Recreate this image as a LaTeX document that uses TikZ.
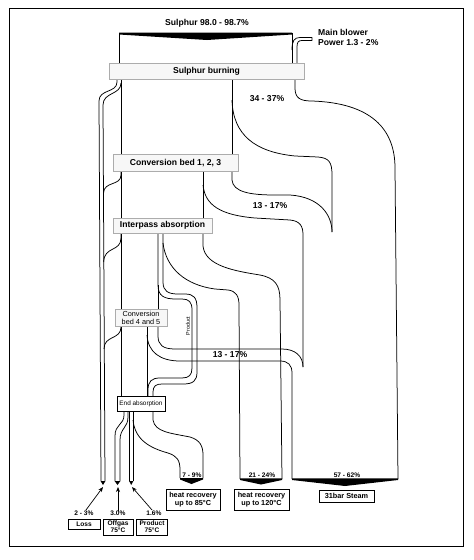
\documentclass[tikz,border=0pt]{standalone}
\usepackage{fontspec}
\setmainfont{Liberation Sans}
\usetikzlibrary{arrows.meta}
\begin{document}
\begin{tikzpicture}[x=1pt,y=-1pt,
  flow/.style={line width=0.75pt, line join=round},
  gbox/.style={draw=gray!65, fill=gray!6, line width=0.7pt, inner sep=0pt, font=\fontsize{8.6}{9}\selectfont\bfseries},
  bbox/.style={draw=black, fill=white, line width=0.7pt, inner sep=0pt, align=center, font=\fontsize{6.6}{7.2}\selectfont\bfseries},
  lab/.style={inner sep=0pt, font=\fontsize{8.6}{9}\selectfont\bfseries},
  slab/.style={inner sep=0pt, font=\fontsize{6.6}{7}\selectfont\bfseries},
  arr/.style={line width=0.7pt, -{Stealth[length=5pt,width=4pt]}}
]
\useasboundingbox (0,0) rectangle (474,560);
\draw[line width=0.9pt] (9,8) rectangle (463,546);

% ---------- top input ----------
\fill (119,32.5) -- (292,32.5) -- (292,34.5) -- (207,40) -- (119,34.5) -- cycle;
\draw[flow] (119,33) -- (119,63);
\draw[flow] (292,33) -- (292,63);
% main blower pipe
\draw[flow] (292,50) .. controls (292,41) and (294,37.5) .. (300,37.5) -- (312,37.5) -- (312,40.5) -- (302,40.5) .. controls (298.5,40.5) and (297,42) .. (297,47) -- (297,63);

% ---------- loss pipe ----------
\draw[flow] (117,79) -- (117,82) .. controls (117,93) and (99,89) .. (99,101) -- (101,481);
\draw[flow] (121,83) .. controls (121,95) and (103,92) .. (103,105) -- (105,481);
\fill (100.6,481) -- (105.4,481) -- (103,485) -- cycle;
\draw[flow] (121,172) -- (121,175) .. controls (121,186) and (104,181) .. (103.5,193);
\draw[flow] (121,233) -- (121,238) .. controls (121,252) and (104,246) .. (103.7,262);
\draw[flow] (121,327) .. controls (121,340) and (104,335) .. (104,349);

% ---------- main column ----------
\draw[flow] (121,79) -- (121,396);
\draw[flow] (232,79) -- (232,154);
\draw[flow] (203,172) -- (203,218);

% ---------- 34-37 % / steam band ----------
\draw[flow] (232,100) .. controls (233,135) and (255,152) .. (295,156) -- (318,157) .. controls (329,158) and (332,162) .. (332,175) -- (332,232);
\draw[flow] (295,79) -- (295,88) .. controls (295,98) and (300,101) .. (312,101) .. controls (370,103) and (395,128) .. (395,168) -- (398,479);

% ---------- upper 13-17 % band ----------
\draw[flow] (232,172) -- (232,180) .. controls (233,192) and (250,195) .. (275,195) -- (290,195) .. controls (320,197) and (332,215) .. (332,232);
\draw[flow] (203,185) .. controls (205,205) and (220,215) .. (255,218) -- (290,220) .. controls (300,221) and (303,226) .. (303,235) -- (303,367);

% ---------- product pipe ----------
\draw[flow] (158,233) -- (158,285) .. controls (158,296) and (164,299) .. (176,299) -- (182,299) .. controls (189,299) and (192,302) .. (192,310) -- (192,368) .. controls (192,375) and (189,378) .. (182,378) -- (160,378) .. controls (152,378) and (148,381) .. (148,390) -- (148,396);
\draw[flow] (163,233) -- (163,282) .. controls (163,291) and (168,294) .. (178,294) -- (185,294) .. controls (194,294) and (197,298) .. (197,308) -- (197,372) .. controls (197,381) and (193,384) .. (183,384) -- (162,384) .. controls (156,384) and (153,386) .. (153,392) -- (153,396);
\draw[flow] (158,285) -- (158,310);

% ---------- 21-24 % band ----------
\draw[flow] (163,243) .. controls (166,268) and (185,285) .. (215,289) -- (228,290) .. controls (236,291) and (239,296) .. (239,305) -- (240,479);
\draw[flow] (203,233) -- (203,246) .. controls (205,266) and (235,271) .. (260,275) .. controls (275,278) and (280,285) .. (280,300) -- (282,479);
\fill (240,478.4) -- (282,478.4) -- (282,480) -- (261,484.5) -- (240,480) -- cycle;

% ---------- lower 13-17 % band ----------
\draw[flow] (158,327) -- (158,336) .. controls (158,345) and (163,349) .. (175,349) -- (282,349) .. controls (295,349) and (303,356) .. (303,367);
\draw[flow] (147,327) -- (147,396);
\draw[flow] (147,335) .. controls (148,352) and (160,361) .. (180,361) -- (280,361) .. controls (288,361) and (292,365) .. (292,373) -- (292,479);
\fill (292,478.4) -- (398,478.4) -- (398,480) -- (345,486) -- (292,480) -- cycle;

% ---------- below end absorption ----------
\draw[flow] (124,411) -- (124,415) .. controls (124,425) and (115,424) .. (115,436) -- (115,481);
\draw[flow] (128,411) -- (128,417) .. controls (128,428) and (120,428) .. (120,440) -- (120,481);
\fill (114.6,481) -- (120.4,481) -- (117.5,485) -- cycle;
\draw[flow] (129.5,411) -- (129.5,481);
\draw[flow] (133,411) -- (133,481);
\fill (129.1,481) -- (133.4,481) -- (131.2,485) -- cycle;
\draw[flow] (133,420) .. controls (135,440) and (150,448) .. (168,453) .. controls (177,456) and (180,460) .. (180,470) -- (180,478);
\draw[flow] (153,411) -- (153,420) .. controls (155,432) and (170,433) .. (190,437) .. controls (200,440) and (203,446) .. (203,455) -- (203,478);
\fill (180,478) -- (203,478) -- (203,479.5) -- (191.5,484) -- (180,479.5) -- cycle;

% ---------- boxes ----------
\node[gbox, minimum width=195pt, minimum height=16pt] (sb) at (206.5,71) {Sulphur burning};
\node[gbox, minimum width=125pt, minimum height=17pt] (cb1) at (175.5,163) {Conversion bed 1, 2, 3};
\node[gbox, minimum width=99pt, minimum height=15pt] (ipa) at (162.5,225.5) {Interpass absorption};
\node[gbox, minimum width=52pt, minimum height=17pt, align=center, font=\fontsize{7.3}{7.3}\selectfont] (cb4) at (141,318) {Conversion\\bed 4 and 5};
\node[draw=black, fill=white, line width=0.7pt, inner sep=0pt, minimum width=48pt, minimum height=15pt, font=\fontsize{6.4}{7}\selectfont] (ea) at (141,403.5) {End absorption};

% ---------- labels ----------
\node[lab] (sin) at (207,23) {Sulphur 98.0 - 98.7\%};
\node[lab, anchor=north west, align=left, font=\fontsize{8.6}{9.6}\selectfont\bfseries] (mb) at (318,29) {Main blower\\Power 1.3 - 2\%};
\node[lab] (p34) at (267,99) {34 - 37\%};
\node[lab] (p13a) at (270,206) {13 - 17\%};
\node[lab] (p13b) at (230,355) {13 - 17\%};
\node[rotate=90, inner sep=0pt, font=\fontsize{5.4}{5.4}\selectfont] (prl) at (188,326) {Product};
\node[slab] (p7) at (192,475) {7 - 9\%};
\node[slab] (p21) at (262,475) {21 - 24\%};
\node[slab] (p57) at (347,475) {57 - 62\%};

\node[bbox, minimum width=54pt, minimum height=21pt, font=\fontsize{7.3}{8}\selectfont\bfseries] (hr85) at (193,499.5) {heat recovery\\up to 85°C};
\node[bbox, minimum width=55pt, minimum height=21pt, font=\fontsize{7.3}{8}\selectfont\bfseries] (hr120) at (261.5,499.5) {heat recovery\\up to 120°C};
\node[bbox, minimum width=55pt, minimum height=12pt, font=\fontsize{7.3}{8}\selectfont\bfseries] (st) at (346.5,496) {31bar Steam};

\node[slab] (l23) at (84,513.5) {2 - 3\%};
\node[slab] (l30) at (118,513.5) {3.0\%};
\node[slab] (l16) at (154,513.5) {1.6\%};
\node[bbox, minimum width=32pt, minimum height=10pt] (loss) at (84,524) {Loss};
\node[bbox, minimum width=30pt, minimum height=16pt] (off) at (118,527) {Offgas\\75°C};
\node[bbox, minimum width=31pt, minimum height=16pt] (prod) at (152,527) {Product\\75°C};

\coordinate (lossend) at (103,487);
\coordinate (offend) at (118,487);
\coordinate (prodend) at (132,487);
\draw[arr] (l23.north) ++(2,-1) -- (lossend);
\draw[arr] (l30.north) -- (offend);
\draw[arr] (l16.north) ++(-2,-1) -- (prodend);
\end{tikzpicture}
\end{document}
